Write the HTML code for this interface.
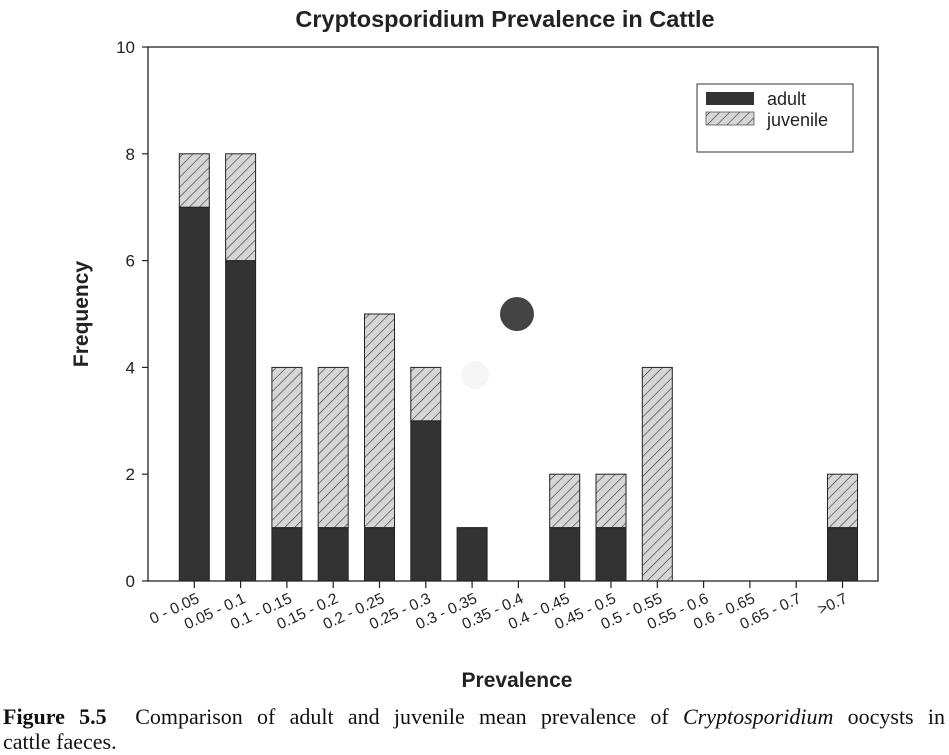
<!DOCTYPE html>
<html><head><meta charset="utf-8"><style>
body{margin:0;background:#fff;width:949px;height:755px;overflow:hidden;font-family:"Liberation Sans",sans-serif}
.cap{position:absolute;left:3px;top:704px;font-family:"Liberation Serif",serif;font-size:22px;line-height:25px;color:#111;width:942px}
.l1{display:block;text-align:justify;text-align-last:justify;white-space:nowrap}
</style></head><body>
<svg width="949" height="700" style="position:absolute;left:0;top:0">
<defs>
<pattern id="hatch" width="7" height="7" patternUnits="userSpaceOnUse" patternTransform="rotate(45)">
<rect width="7" height="7" fill="#d6d6d6"/><line x1="0" y1="0" x2="0" y2="7" stroke="#333" stroke-width="1.2"/>
</pattern>
</defs>
<text x="505" y="27" text-anchor="middle" font-size="23.5" font-weight="bold" fill="#222">Cryptosporidium Prevalence in Cattle</text>
<g id="plot"></g>
<rect x="148" y="47" width="730" height="534" fill="none" stroke="#222" stroke-width="1.3"/>
<circle cx="517" cy="314" r="17" fill="#444"/>
<circle cx="475" cy="375" r="14" fill="#f6f6f6"/>
<text x="88" y="314" transform="rotate(-90 88 314)" text-anchor="middle" font-size="21" font-weight="bold" fill="#222">Frequency</text>
<text x="517" y="687" text-anchor="middle" font-size="21" font-weight="bold" fill="#222">Prevalence</text>
<g>
<rect x="697" y="84" width="156" height="68" fill="#fff" stroke="#333" stroke-width="1"/>
<rect x="706" y="92" width="48" height="13" fill="#333"/>
<rect x="706" y="112" width="48" height="13" fill="url(#hatch)" stroke="#555" stroke-width="0.8"/>
<text x="767" y="105" font-size="18" fill="#222">adult</text>
<text x="767" y="126" font-size="18" fill="#222">juvenile</text>
</g>
</svg>
<div class="cap"><span class="l1"><b>Figure 5.5</b>&nbsp; Comparison of adult and juvenile mean prevalence of <i>Cryptosporidium</i> oocysts in</span>cattle faeces.</div>
<script>
const categories=["0 - 0.05","0.05 - 0.1","0.1 - 0.15","0.15 - 0.2","0.2 - 0.25","0.25 - 0.3","0.3 - 0.35","0.35 - 0.4","0.4 - 0.45","0.45 - 0.5","0.5 - 0.55","0.55 - 0.6","0.6 - 0.65","0.65 - 0.7",">0.7"];
const adult=[7,6,1,1,1,3,1,0,1,1,0,0,0,0,1];
const juvenile=[1,2,3,3,4,1,0,0,1,1,4,0,0,0,1];
const yTicks=[0,2,4,6,8,10];
const NS="http://www.w3.org/2000/svg";
const g=document.getElementById("plot");
const y=v=>581-v*53.4;
const x=i=>148+46.3*(i+1);
function mk(t,a){const e=document.createElementNS(NS,t);for(const k in a)e.setAttribute(k,a[k]);g.appendChild(e);return e;}
yTicks.forEach(v=>{
 const l=mk("line",{x1:142,x2:148,y1:y(v),y2:y(v),stroke:"#222","stroke-width":1.2});
 
 
 const t=mk("text",{x:135,y:y(v)+6,"text-anchor":"end","font-size":17,fill:"#222"});
 t.textContent=v;
 
 
});
categories.forEach((c,i)=>{
 const cx=x(i),w=30;
 if(adult[i]>0){
  const r=mk("rect",{x:cx-w/2,y:y(adult[i]),width:w,height:y(0)-y(adult[i]),fill:"#333",stroke:"#222","stroke-width":1});
  
  
 }
 if(juvenile[i]>0){
  const top=adult[i]+juvenile[i];
  const r=mk("rect",{x:cx-w/2,y:y(top),width:w,height:y(adult[i])-y(top),fill:"url(#hatch)",stroke:"#222","stroke-width":1});
  
  
 }
 const tk=mk("line",{x1:cx,x2:cx,y1:581,y2:588,stroke:"#222","stroke-width":1.2});
 
 
 const t=mk("text",{x:cx+6,y:602,"text-anchor":"end","font-size":15.5,fill:"#222",transform:`rotate(-25 ${cx+6} 602)`});
 t.textContent=c;
 
 
});
</script>
</body></html>
